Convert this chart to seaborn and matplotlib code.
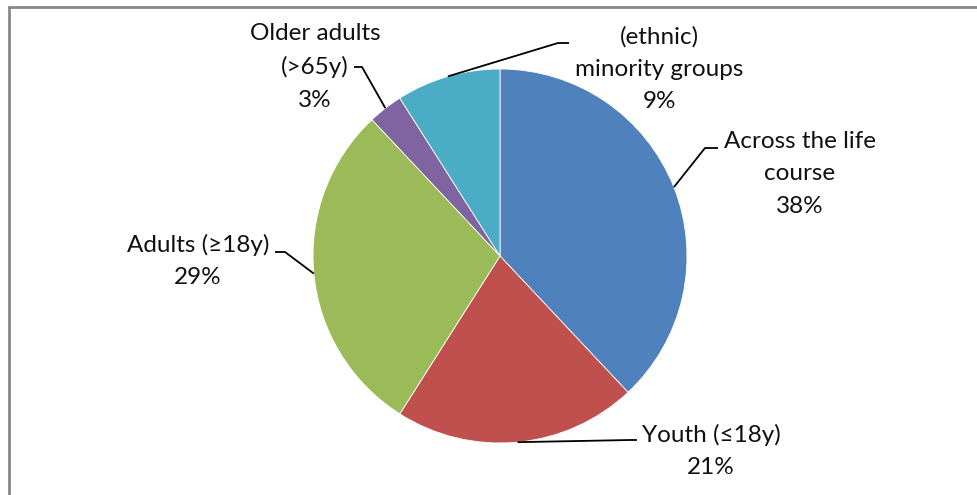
import matplotlib
matplotlib.use("Agg")
import matplotlib.pyplot as plt
import numpy as np
import seaborn as sns

# Share of studies by target population
categories = ["Across the life\ncourse", "Youth (≤18y)", "Adults (≥18y)",
              "Older adults\n(>65y)", "(ethnic)\nminority groups"]
shares = [38, 21, 29, 3, 9]
colors = ["#4F81BD", "#C0504D", "#9BBB59", "#8064A2", "#4BACC6"]

sns.set_theme(style="white")
plt.rcParams["font.family"] = ["Lato", "DejaVu Sans"]

W, H = 978, 495
fig = plt.figure(figsize=(W / 100, H / 100), dpi=100)
ax = fig.add_axes([0, 0, 1, 1])

cx, cy, R = 500, H - 256, 187
wedges, _ = ax.pie(shares, colors=colors, startangle=90, counterclock=False,
                   center=(cx, cy), radius=R,
                   wedgeprops=dict(linewidth=0.6, edgecolor="white"))
ax.set_xlim(0, W)
ax.set_ylim(0, H)
ax.set_aspect("auto")
ax.axis("off")

# label placement in pixels from the top-left: elbow, tick end, text centre
layout = [
    ((705, 148), (718, 148), (800, 174)),
    ((630, 440), (637, 440), (711, 451)),
    ((285, 252), (275, 252), (198, 261)),
    ((362, 67), (354, 67), (315, 67)),
    ((558, 43), (569, 43), (659, 69)),
]

for w, name, val, (elbow, tick, txt) in zip(wedges, categories, shares, layout):
    mid = np.deg2rad((w.theta1 + w.theta2) / 2)
    sx = cx + R * np.cos(mid)
    sy = cy + R * np.sin(mid)
    xs = [sx, elbow[0], tick[0]]
    ys = [sy, H - elbow[1], H - tick[1]]
    ax.plot(xs, ys, color="black", linewidth=1.3, solid_capstyle="butt")
    ax.text(txt[0], H - txt[1], f"{name}\n{val}%", ha="center", va="center",
            fontsize=17.5, linespacing=1.68, color="#111111")

# outer chart border
fig.add_artist(plt.Line2D([9, 9], [0, H - 7], transform=None,
                          color="#878787", linewidth=2))
fig.add_artist(plt.Line2D([9, W], [H - 7, H - 7], transform=None,
                          color="#878787", linewidth=2))

fig.savefig("out.png", dpi=100)
